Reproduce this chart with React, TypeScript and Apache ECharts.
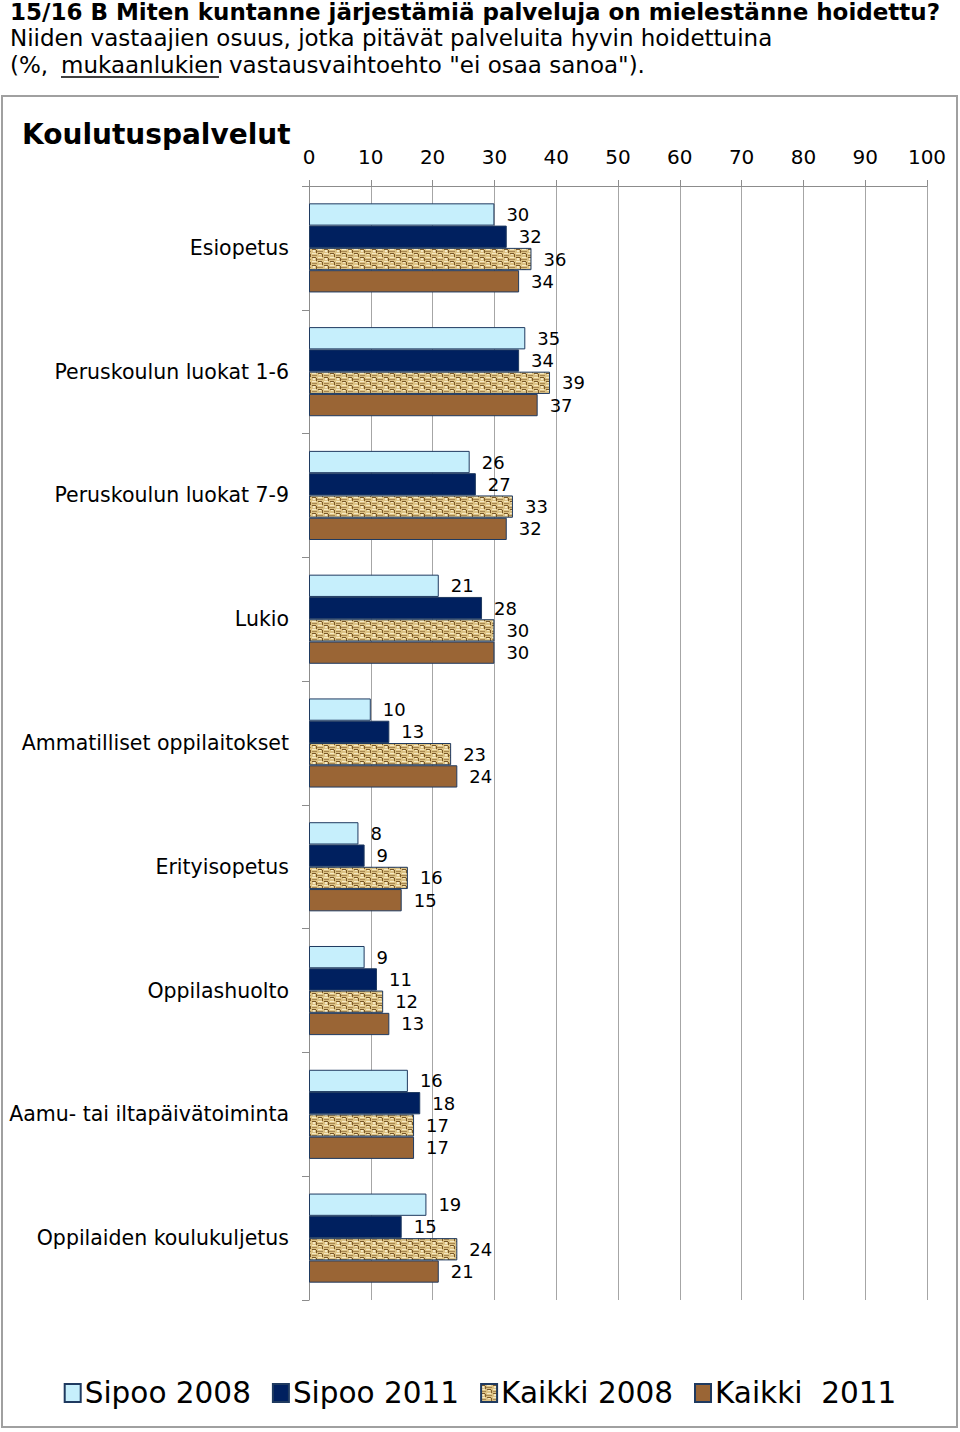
import { useEffect, useRef } from 'react';
import * as echarts from 'echarts';

const categories = [
  'Esiopetus',
  'Peruskoulun luokat 1-6',
  'Peruskoulun luokat 7-9',
  'Lukio',
  'Ammatilliset oppilaitokset',
  'Erityisopetus',
  'Oppilashuolto',
  'Aamu- tai iltapäivätoiminta',
  'Oppilaiden koulukuljetus',
];
const sipoo2008 = [30, 35, 26, 21, 10, 8, 9, 16, 19];
const sipoo2011 = [32, 34, 27, 28, 13, 9, 11, 18, 15];
const kaikki2008 = [36, 39, 33, 30, 23, 16, 12, 17, 24];
const kaikki2011 = [34, 37, 32, 30, 24, 15, 13, 17, 21];
const seriesNames = ['Sipoo 2008', 'Sipoo 2011', 'Kaikki 2008', 'Kaikki  2011'];
const axisMin = 0;
const axisMax = 100;
const axisStep = 10;

const F = '"DejaVu Sans", Verdana, sans-serif';

function makeBurlap(): HTMLCanvasElement {
  const c = document.createElement('canvas');
  c.width = 12;
  c.height = 8;
  const g = c.getContext('2d')!;
  g.fillStyle = '#dcc284';
  g.fillRect(0, 0, 12, 8);
  g.fillStyle = '#7a5828';
  g.fillRect(0, 1, 4, 1);
  g.fillRect(6, 5, 4, 1);
  g.fillRect(4, 2, 1, 3);
  g.fillRect(10, 6, 1, 2);
  g.fillRect(10, 0, 1, 1);
  g.fillStyle = '#f6e9c4';
  g.fillRect(6, 1, 4, 1);
  g.fillRect(0, 5, 4, 1);
  g.fillRect(1, 2, 2, 2);
  g.fillRect(7, 6, 2, 1);
  g.fillStyle = '#a78650';
  g.fillRect(5, 3, 6, 1);
  g.fillRect(0, 7, 5, 1);
  return c;
}

export default function App() {
  const ref = useRef<HTMLDivElement>(null);
  useEffect(() => {
    if (!ref.current) return;
    const chart = echarts.init(ref.current, null, { renderer: 'svg' });
    const burlap = { image: makeBurlap(), repeat: 'repeat' } as any;
    const colors = ['#c6effc', '#00205f', burlap, '#9a6535'];
    const datasets = [sipoo2008, sipoo2011, kaikki2008, kaikki2011];
    const series = datasets.map((d, i) => ({
      name: seriesNames[i],
      type: 'bar',
      data: d,
      barGap: '0%',
      barCategoryGap: '28%',
      itemStyle: { color: colors[i], borderColor: '#1f3a60', borderWidth: 1 },
      label: {
        show: true,
        position: 'right',
        distance: 12,
        fontFamily: F,
        fontSize: 18,
        color: '#000',
      },
    }));
    const head = { fontFamily: F, fontSize: 23, fill: '#000', verticalAlign: 'top' };
    chart.setOption({
      animation: false,
      backgroundColor: '#fff',
      textStyle: { fontFamily: F },
      grid: { left: 309, right: 33, top: 186, bottom: 132, containLabel: false },
      xAxis: {
        type: 'value',
        position: 'top',
        min: axisMin,
        max: axisMax,
        interval: axisStep,
        axisLine: { show: true, lineStyle: { color: '#8c8c8c', width: 1 } },
        axisTick: { show: true, length: 6, lineStyle: { color: '#8c8c8c' } },
        axisLabel: { fontFamily: F, fontSize: 20, color: '#000', margin: 19 },
        splitLine: { show: true, lineStyle: { color: '#a6a6a6', width: 1 } },
      },
      yAxis: {
        type: 'category',
        data: categories,
        inverse: true,
        axisLine: { show: true, lineStyle: { color: '#8c8c8c', width: 1 } },
        axisTick: { show: true, length: 7, lineStyle: { color: '#8c8c8c' } },
        axisLabel: { fontFamily: F, fontSize: 20.5, color: '#000', margin: 20 },
      },
      legend: {
        data: seriesNames.map((n) => ({ name: n, icon: 'rect' })),
        left: 'center',
        top: 1373,
        itemWidth: 16,
        itemHeight: 18,
        itemGap: 21,
        textStyle: { fontFamily: F, fontSize: 29.5, color: '#000', padding: [0, 0, 0, -1] },
      },
      graphic: [
        {
          type: 'rect',
          shape: { x: 2, y: 96, width: 955, height: 1331 },
          style: { fill: 'none', stroke: '#a0a0a0', lineWidth: 2 },
          silent: true,
        },
        {
          type: 'text',
          x: 10,
          y: 0,
          style: { ...head, text: '15/16 B Miten kuntanne järjestämiä palveluja on mielestänne hoidettu?', fontWeight: 'bold' },
        },
        {
          type: 'text',
          x: 10,
          y: 26,
          style: { ...head, text: 'Niiden vastaajien osuus, jotka pitävät palveluita hyvin hoidettuina' },
        },
        { type: 'text', x: 10, y: 53, style: { ...head, text: '(%,' } },
        { type: 'text', x: 61, y: 53, style: { ...head, text: 'mukaanlukien' } },
        { type: 'text', x: 229, y: 53, style: { ...head, text: 'vastausvaihtoehto "ei osaa sanoa").' } },
        {
          type: 'line',
          shape: { x1: 61, y1: 77, x2: 219, y2: 77 },
          style: { stroke: '#000', lineWidth: 1.5 },
        },
        {
          type: 'text',
          x: 22,
          y: 120,
          style: { text: 'Koulutuspalvelut', fontFamily: F, fontWeight: 'bold', fontSize: 28, fill: '#000', verticalAlign: 'top' },
        },
      ],
      series,
    } as any);
    return () => chart.dispose();
  }, []);
  return (
    <div
      ref={ref}
      style={{ position: 'absolute', left: 0, top: 0, width: 960, height: 1432 }}
    />
  );
}
